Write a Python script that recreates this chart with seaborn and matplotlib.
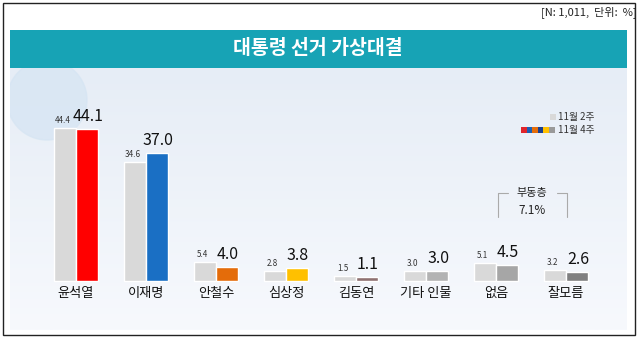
import numpy as np
import pandas as pd
import matplotlib
matplotlib.use("Agg")
import matplotlib.pyplot as plt
import seaborn as sns
from matplotlib.patches import Rectangle, Ellipse
from matplotlib.colors import LinearSegmentedColormap

sns.set_theme(style="white")
plt.rcParams['font.family'] = ['Noto Sans CJK KR', 'DejaVu Sans']

categories = ["윤석열", "이재명", "안철수", "심상정", "김동연", "기타 인물", "없음", "잘모름"]
week2 = [44.4, 34.6, 5.4, 2.8, 1.5, 3.0, 5.1, 3.2]
week4 = [44.1, 37.0, 4.0, 3.8, 1.1, 3.0, 4.5, 2.6]
series_names = ["11월 2주", "11월 4주"]
week4_colors = ["#ff0000", "#1a6fc4", "#e46c0a", "#ffc000", "#8e7171", "#b3b3b3", "#a6a6a6", "#808080"]
week2_color = "#d9d9d9"
title = "대통령 선거 가상대결"
note = "[N: 1,011,  단위:  %]"
floating_label = "부동층"
floating_value = "7.1%"

W, H = 640, 339
fig = plt.figure(figsize=(W / 100, H / 100), dpi=100)
fig.patch.set_facecolor("white")

def fx(px):
    return px / W

def fy(py):
    return 1 - py / H

# outer frame
fig.add_artist(Rectangle((fx(3), fy(335)), fx(632), (332) / H, transform=fig.transFigure,
                         fill=False, edgecolor="#222222", linewidth=1.0))

# background panel with gradient
bg = fig.add_axes([fx(10), fy(330), fx(617), (330 - 68) / H])
grad = np.linspace(0, 1, 256).reshape(-1, 1)
cmap = LinearSegmentedColormap.from_list("bg", ["#e6edf6", "#f7f9fd"])
bg.imshow(grad, aspect="auto", cmap=cmap, extent=[0, 617, 0, 262], origin="upper")
bg.set_xlim(0, 617)
bg.set_ylim(0, 262)
bg.add_patch(Ellipse((37, 262 - 32), 80, 80, color="#d6e5f3", alpha=0.75))
bg.set_axis_off()

# title banner
fig.add_artist(Rectangle((fx(10), fy(68)), fx(617), 38 / H, transform=fig.transFigure,
                         facecolor="#17a3b5", edgecolor="none"))
fig.text(fx(318), fy(49), title, color="white", fontsize=14, fontweight="bold",
         ha="center", va="center")
fig.text(fx(637), fy(12), note, fontsize=8, ha="right", va="center", color="#222222")

# main axes
ax = fig.add_axes([fx(10), fy(310), fx(617), (310 - 68) / H])
ax.patch.set_alpha(0)
df = pd.DataFrame({
    "category": categories * 2,
    "value": week2 + week4,
    "series": [series_names[0]] * len(categories) + [series_names[1]] * len(categories),
})
sns.barplot(data=df, x="category", y="value", hue="series", order=categories,
            hue_order=series_names, palette=[week2_color, "#888888"], width=0.63,
            gap=0, legend=False, ax=ax, errorbar=None, saturation=1)

for p, c in zip(ax.containers[1].patches, week4_colors):
    p.set_facecolor(c)

scale = 3.45
ax.set_xlim(-(76 - 10) / 70, 7 + (627 - 566) / 70)
ax.set_ylim(-(310 - 281) / scale, (281 - 68) / scale)

for p, v in zip(ax.containers[0].patches, week2):
    ax.text(p.get_x() + p.get_width() / 2 - 2.5 / 70, v + 5 / scale, f"{v:.1f}", ha="center",
            va="baseline", fontsize=5.8, color="#333333")
for p, v in zip(ax.containers[1].patches, week4):
    ax.text(p.get_x() + p.get_width() / 2 + 1 / 70, v + 8 / scale, f"{v:.1f}", ha="center",
            va="baseline", fontsize=11.5, color="#111111")

for i, c in enumerate(categories):
    ax.text(i, -12 / scale, c, ha="center", va="center", fontsize=9.5, color="#111111")

ax.set_axis_off()

# legend
fig.add_artist(Rectangle((fx(550), fy(120)), fx(6), 6 / H, transform=fig.transFigure,
                         facecolor=week2_color, edgecolor="none"))
fig.text(fx(558), fy(117), series_names[0], fontsize=7, va="center", ha="left", color="#333333")
leg_cols = ["#e0242b", "#1a5fb4", "#e46c0a", "#1a3f8f", "#ffc000", "#999999"]
for k, c in enumerate(leg_cols):
    fig.add_artist(Rectangle((fx(521 + k * 5.6), fy(133)), fx(5.6), 6 / H,
                             transform=fig.transFigure, facecolor=c, edgecolor="none"))
fig.text(fx(558), fy(130), series_names[1], fontsize=7, va="center", ha="left", color="#333333")

# floating voters bracket
lc = "#aaaaaa"
fig.add_artist(plt.Line2D([fx(498), fx(498), fx(508)], [fy(217), fy(193), fy(193)],
                          transform=fig.transFigure, color=lc, linewidth=0.8))
fig.add_artist(plt.Line2D([fx(557), fx(567), fx(567)], [fy(193), fy(193), fy(217)],
                          transform=fig.transFigure, color=lc, linewidth=0.8))
fig.text(fx(532), fy(193), floating_label, fontsize=8, ha="center", va="center", color="#222222")
fig.text(fx(532), fy(211), floating_value, fontsize=8.5, ha="center", va="center", color="#222222")

fig.savefig("out.png", dpi=100)
